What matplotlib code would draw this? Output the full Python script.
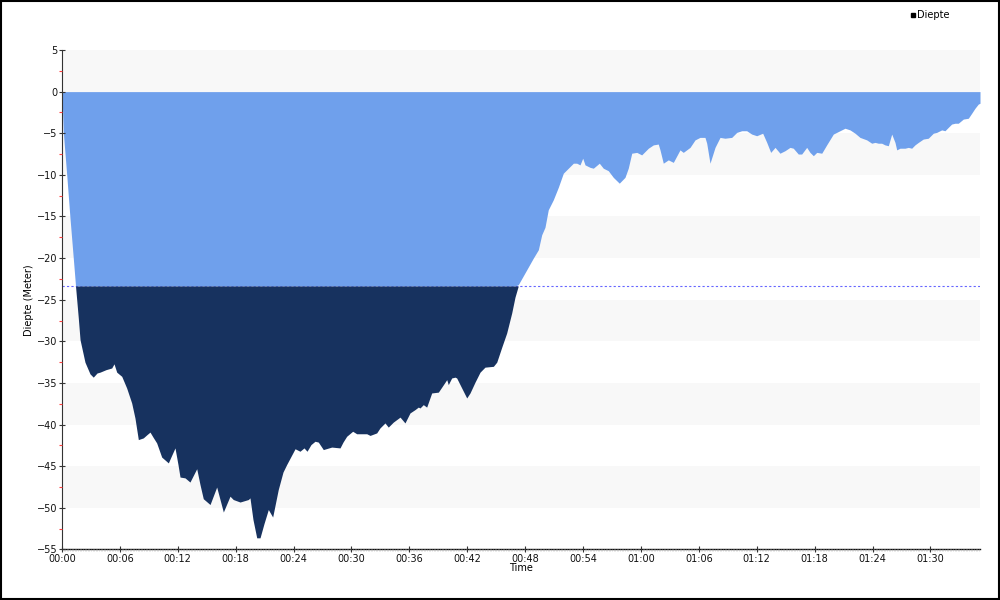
"""
Dive profile chart: depth (m) over dive time, with the part of the dive
deeper than the reference depth shaded dark.
"""

import matplotlib
matplotlib.use("Agg")
import matplotlib.pyplot as plt
import numpy as np
from matplotlib.lines import Line2D
from matplotlib.patches import Rectangle
from matplotlib.ticker import FuncFormatter, MultipleLocator

# dive time in minutes
minutes = [
    0.00, 0.13, 0.49, 0.83, 1.17, 1.40, 1.69, 1.87, 2.38, 2.90, 3.24, 3.63,
    3.94, 4.56, 5.15, 5.39, 5.67, 6.19, 6.70, 7.22, 7.56, 7.91, 8.42, 8.81,
    9.12, 9.43, 9.81, 10.33, 11.02, 11.40, 11.71, 12.02, 12.23, 12.75, 13.26,
    13.96, 14.30, 14.64, 15.34, 16.03, 16.72, 17.41, 17.75, 18.45, 19.31,
    19.48, 19.79, 20.18, 20.52, 20.93, 21.38, 21.83, 22.41, 22.90, 23.28,
    24.15, 24.66, 25.08, 25.39, 25.80, 26.22, 26.56, 27.08, 27.95, 28.81,
    29.12, 29.50, 30.12, 30.54, 31.58, 31.92, 32.61, 32.95, 33.47, 33.81,
    34.33, 35.03, 35.54, 36.06, 36.58, 36.92, 37.10, 37.44, 37.79, 38.31,
    39.00, 39.35, 39.87, 40.03, 40.38, 40.73, 40.90, 41.42, 41.94, 42.28,
    42.80, 43.32, 43.83, 44.70, 45.05, 45.57, 46.08, 46.60, 46.94, 47.28,
    48.16, 48.84, 49.36, 49.71, 50.05, 50.39, 50.91, 51.43, 51.95, 52.47,
    52.99, 53.34, 53.68, 53.96, 54.20, 54.72, 55.06, 55.68, 56.09, 56.61,
    57.13, 57.75, 58.34, 58.68, 59.04, 59.56, 60.07, 60.76, 61.28, 61.79,
    61.97, 62.31, 62.83, 63.35, 64.04, 64.38, 65.08, 65.60, 66.11, 66.63,
    66.81, 67.15, 67.67, 68.19, 68.70, 69.40, 69.92, 70.44, 70.95, 71.47,
    71.99, 72.61, 73.03, 73.44, 73.89, 74.40, 74.92, 75.44, 75.78, 76.30,
    76.65, 77.17, 77.51, 77.86, 78.21, 78.73, 79.24, 79.93, 80.62, 81.14,
    81.66, 82.18, 82.69, 83.39, 83.91, 84.25, 84.59, 84.94, 85.28, 85.63,
    85.98, 86.32, 86.50, 86.84, 87.36, 87.70, 88.05, 88.39, 88.74, 89.25,
    89.77, 90.29, 90.64, 91.16, 91.50, 91.84, 92.19, 92.54, 92.88, 93.40,
    93.92, 94.27, 94.61, 94.95, 95.13,
]

# depth in meter (negative = below surface)
depth = [
    0.0, -4.8, -10.0, -15.2, -20.0, -23.3, -27.2, -29.8, -32.5, -33.9, -34.3,
    -33.8, -33.7, -33.4, -33.2, -32.7, -33.7, -34.2, -35.6, -37.4, -39.2,
    -41.8, -41.6, -41.2, -40.9, -41.5, -42.2, -43.9, -44.6, -43.6, -42.8,
    -44.8, -46.3, -46.4, -46.9, -45.3, -47.2, -48.9, -49.6, -47.5, -50.5,
    -48.6, -49.0, -49.3, -49.0, -48.8, -51.4, -53.6, -53.6, -51.9, -50.2,
    -51.1, -47.8, -45.7, -44.8, -42.9, -43.2, -42.8, -43.2, -42.4, -42.0,
    -42.1, -43.0, -42.7, -42.8, -42.1, -41.4, -40.8, -41.1, -41.1, -41.3,
    -41.0, -40.4, -39.8, -40.3, -39.7, -39.1, -39.8, -38.6, -38.2, -37.9,
    -38.0, -37.6, -37.9, -36.2, -36.1, -35.5, -34.6, -35.2, -34.4, -34.3,
    -34.4, -35.6, -36.8, -36.2, -34.9, -33.7, -33.1, -33.0, -32.5, -30.7,
    -29.0, -26.6, -24.7, -23.2, -21.4, -20.0, -19.0, -17.2, -16.3, -14.2,
    -13.0, -11.5, -9.8, -9.2, -8.6, -8.6, -8.8, -8.0, -8.8, -9.1, -9.2,
    -8.6, -9.2, -9.5, -10.3, -11.0, -10.3, -9.2, -7.4, -7.3, -7.6, -6.8,
    -6.4, -6.3, -7.0, -8.6, -8.2, -8.5, -7.0, -7.3, -6.7, -5.8, -5.5, -5.5,
    -6.2, -8.6, -6.7, -5.5, -5.6, -5.5, -4.9, -4.7, -4.7, -5.1, -5.3, -5.0,
    -6.1, -7.3, -6.7, -7.4, -7.1, -6.7, -6.8, -7.5, -7.5, -6.7, -7.3, -7.7,
    -7.3, -7.4, -6.4, -5.1, -4.7, -4.4, -4.6, -5.0, -5.5, -5.8, -6.2, -6.1,
    -6.2, -6.2, -6.4, -6.5, -5.1, -6.1, -7.0, -6.8, -6.8, -6.7, -6.8, -6.4,
    -6.1, -5.7, -5.6, -5.0, -4.9, -4.6, -4.7, -4.3, -3.9, -3.8, -3.8, -3.3,
    -3.2, -2.6, -2.0, -1.5, -1.4,
]

reference_depth = -23.35
y_ticks = [5, 0, -5, -10, -15, -20, -25, -30, -35, -40, -45, -50, -55]

LIGHT = "#6FA0EC"
DARK = "#17325F"
BAND = "#F8F8F8"


def mmss(x, pos=None):
    m = int(round(x))
    return f"{m // 60:02d}:{m % 60:02d}"


def main():
    t = np.array(minutes)
    d = np.array(depth)

    fig = plt.figure(figsize=(10, 6), dpi=100)
    ax = fig.add_axes([0.062, 0.0842, 0.918, 0.8325])

    # alternating horizontal bands
    for top in range(5, -55, -10):
        ax.axhspan(top - 5, top, color=BAND, lw=0, zorder=0)

    ax.axhline(reference_depth, color="#6666FF", lw=0.8, ls=(0, (2, 2)),
               zorder=1)

    # shallow part in light blue, below the reference depth in dark blue
    ax.fill_between(t, 0, np.maximum(d, reference_depth), color=LIGHT,
                    lw=0, zorder=2)
    ax.fill_between(t, reference_depth, np.minimum(d, reference_depth),
                    color=DARK, lw=0, zorder=2)

    ax.set_xlim(0, t[-1])
    ax.set_ylim(-55, 5)
    ax.set_yticks(y_ticks)
    ax.set_yticks(np.arange(-52.5, 5, 5), minor=True)
    ax.xaxis.set_major_locator(MultipleLocator(6))
    ax.xaxis.set_minor_locator(MultipleLocator(1 / 6))
    ax.xaxis.set_major_formatter(FuncFormatter(mmss))

    ax.tick_params(axis="both", which="major", direction="inout", length=5,
                   width=0.8, color="#333333", labelsize=7, pad=1,
                   labelcolor="#111111")
    ax.tick_params(axis="y", which="minor", direction="out", length=2.5,
                   width=0.8, color="#FF4040")
    ax.tick_params(axis="x", which="minor", direction="out", length=1.5,
                   width=0.4, color="#BBBBBB")

    for side in ("top", "right"):
        ax.spines[side].set_visible(False)
    ax.spines["left"].set_color("#333333")
    ax.spines["bottom"].set_color("#111111")
    ax.spines["bottom"].set_linewidth(1.0)
    ax.set_axisbelow(False)

    ax.set_xlabel("Time", fontsize=7, labelpad=-1)
    ax.set_ylabel("Diepte (Meter)", fontsize=7, labelpad=2)

    # legend in the top right corner
    fig.add_artist(Line2D([0.9125], [0.9745], marker="s", markersize=3.5,
                          color="black", transform=fig.transFigure))
    fig.text(0.917, 0.975, "Diepte", fontsize=7, va="center", ha="left")

    # frame round the whole picture
    fig.add_artist(Rectangle((0.001, 0.0015), 0.998, 0.997,
                             transform=fig.transFigure, fill=False,
                             ec="black", lw=1.5))

    fig.savefig("out.png", dpi=100)
    plt.close(fig)


if __name__ == "__main__":
    main()
